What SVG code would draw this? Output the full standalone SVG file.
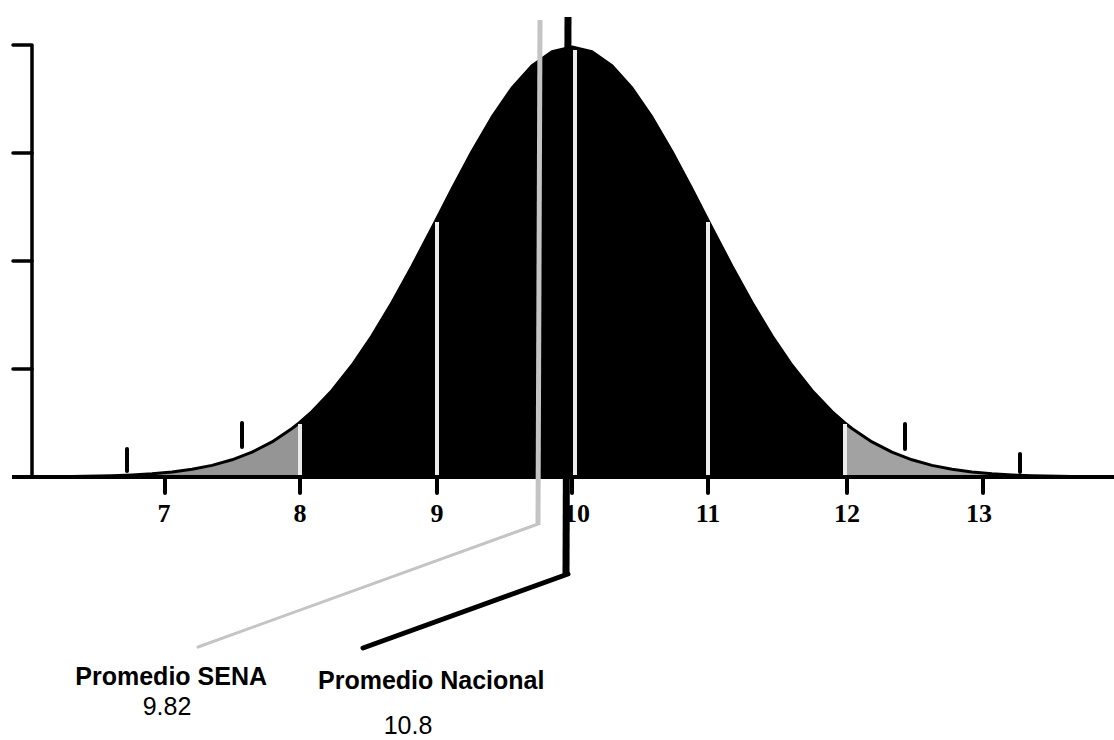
<svg xmlns="http://www.w3.org/2000/svg" width="1114" height="740" viewBox="0 0 1114 740">
<style>
.ax{fill:none;stroke:#000;stroke-width:3.5;stroke-linecap:round;stroke-linejoin:round}
.tk{stroke:#000;stroke-width:4;stroke-linecap:round}
.wl{stroke:#ececec;stroke-width:4}
.num{font-family:"Liberation Serif","Times New Roman",serif;font-weight:bold;font-size:26px;fill:#000;text-anchor:middle}
.lbl{font-family:"Liberation Sans",Arial,sans-serif;font-weight:bold;font-size:25px;fill:#000}
.val{font-family:"Liberation Sans",Arial,sans-serif;font-size:25px;fill:#000;text-anchor:middle}
</style>
<rect width="1114" height="740" fill="#fff"/>
<g id="curve">
<path fill="#959595" d="M112,477 L112,475.8 132,475 152,473.8 172,472 192,469.3 212,465.4 232,459.8 252,452.2 272,441.9 292,428.5 300,422.2 300,477 Z"/>
<path fill="#a2a2a2" d="M844,477 L844,422.2 852,428.5 872,441.9 892,452.2 912,459.8 932,465.4 952,469.3 972,472 992,473.8 1012,475 1032,475.8 1032,477 Z"/>
<path fill="#000" d="M300,477 L300,422.2 312,411.5 332,390.5 352,365.3 372,335.8 392,302.5 412,266.2 432,227.9 436,220.1 452,189 472,151.5 492,117.2 512,88 532,65.7 552,51.8 572,47 592,51.8 612,65.7 632,88 652,117.2 672,151.5 692,189 708,220.1 712,227.9 732,266.2 752,302.5 772,335.8 792,365.3 812,390.5 832,411.5 844,422.2 844,477 Z"/>
<path fill="none" stroke="#000" stroke-width="3" stroke-linejoin="round" d="M22,477 L72,476.6 112,475.8 132,475 152,473.8 172,472 192,469.3 212,465.4 232,459.8 252,452.2 272,441.9 292,428.5 300,422.2 312,411.5 332,390.5 352,365.3 372,335.8 392,302.5 412,266.2 432,227.9 436,220.1 452,189 472,151.5 492,117.2 512,88 532,65.7 552,51.8 572,47 592,51.8 612,65.7 632,88 652,117.2 672,151.5 692,189 708,220.1 712,227.9 732,266.2 752,302.5 772,335.8 792,365.3 812,390.5 832,411.5 844,422.2 852,428.5 872,441.9 892,452.2 912,459.8 932,465.4 952,469.3 972,472 992,473.8 1012,475 1032,475.8 1072,476.6 1114,477"/>
<line class="wl" x1="300" y1="424" x2="300" y2="476"/>
<line class="wl" x1="437" y1="222" x2="437" y2="476"/>
<line class="wl" x1="575" y1="50" x2="575" y2="476"/>
<line class="wl" x1="708" y1="222" x2="708" y2="476"/>
<line class="wl" x1="845" y1="424" x2="845" y2="476"/>
</g>
<g id="axes">
<path class="ax" d="M13,45 H32 V477"/>
<line class="ax" x1="13" y1="153" x2="32" y2="153"/>
<line class="ax" x1="13" y1="261" x2="32" y2="261"/>
<line class="ax" x1="13" y1="369" x2="32" y2="369"/>
<line stroke="#000" stroke-width="4" x1="12" y1="477" x2="1114" y2="477"/>
<line class="tk" x1="165" y1="477" x2="165" y2="493"/>
<line class="tk" x1="300" y1="477" x2="300" y2="493"/>
<line class="tk" x1="437" y1="477" x2="437" y2="493"/>
<line class="tk" x1="572" y1="477" x2="572" y2="493"/>
<line class="tk" x1="708" y1="477" x2="708" y2="493"/>
<line class="tk" x1="847" y1="477" x2="847" y2="493"/>
<line class="tk" x1="983" y1="477" x2="983" y2="493"/>
<line class="tk" x1="127" y1="449" x2="127" y2="471"/>
<line class="tk" x1="242" y1="423" x2="242" y2="447"/>
<line class="tk" x1="905" y1="424" x2="905" y2="449"/>
<line class="tk" x1="1020" y1="454" x2="1020" y2="472"/>
<text class="num" x="164" y="522">7</text>
<text class="num" x="300" y="522">8</text>
<text class="num" x="437" y="522">9</text>
<text class="num" x="577" y="522">10</text>
<text class="num" x="708" y="522">11</text>
<text class="num" x="847" y="522">12</text>
<text class="num" x="979" y="522">13</text>
</g>
<g id="connectors">
<polyline fill="none" stroke="#c4c4c4" stroke-width="5" stroke-linejoin="round" points="540,20 538,525"/>
<polyline fill="none" stroke="#c4c4c4" stroke-width="3" stroke-linejoin="round" stroke-linecap="round" points="538,524 198,647"/>
<polyline fill="none" stroke="#000" stroke-width="7" stroke-linejoin="round" points="568,17 566,576"/>
<polyline fill="none" stroke="#000" stroke-width="5" stroke-linejoin="round" stroke-linecap="round" points="568,574 363,648"/>
</g>
<g id="node-sena">
<text class="lbl" x="267" y="685" text-anchor="end">Promedio SENA</text>
<text class="val" x="167" y="715">9.82</text>
</g>
<g id="node-nacional">
<text class="lbl" x="318" y="689">Promedio Nacional</text>
<text class="val" x="408" y="734">10.8</text>
</g>
</svg>
